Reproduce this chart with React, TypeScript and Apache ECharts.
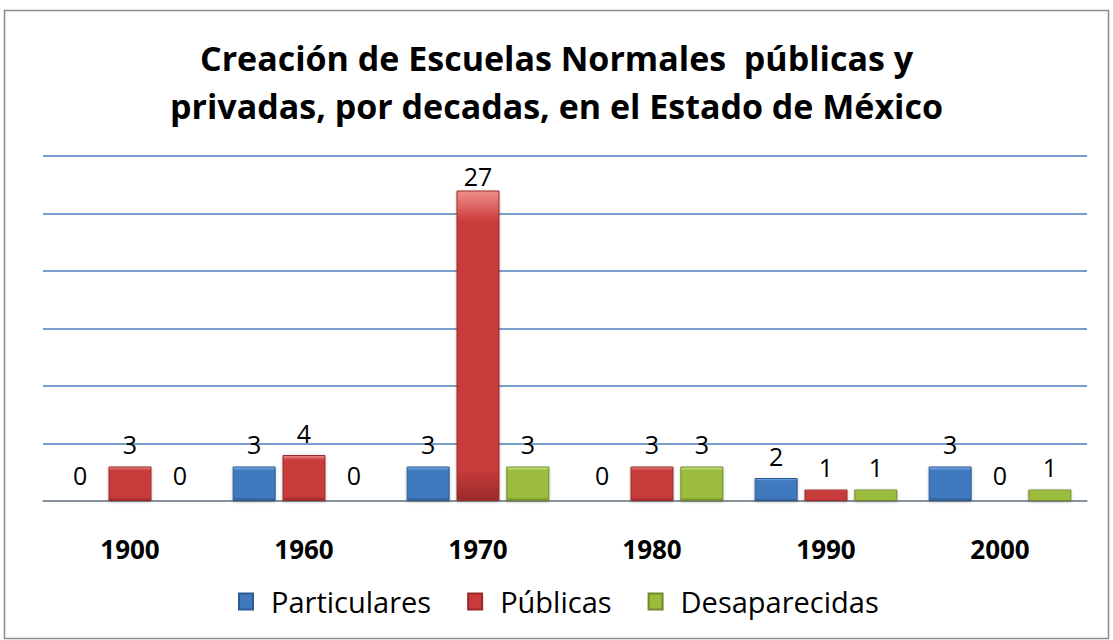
import React, { useEffect, useRef } from "react";
import * as echarts from "echarts";

const categories = ["1900", "1960", "1970", "1980", "1990", "2000"];
const particulares = [0, 3, 3, 0, 2, 3];
const publicas = [3, 4, 27, 3, 1, 0];
const desaparecidas = [0, 0, 3, 3, 1, 1];
const seriesNames = ["Particulares", "Públicas", "Desaparecidas"];
const yTicks = { min: 0, max: 30, interval: 5 };

const FONT = "'Open Sans', 'Noto Sans', sans-serif";

function grad(top: string, mid: string, bottom: string) {
  return new echarts.graphic.LinearGradient(0, 0, 0, 1, [
    { offset: 0, color: top },
    { offset: 0.1, color: mid },
    { offset: 0.9, color: mid },
    { offset: 1, color: bottom },
  ]);
}

const palettes = [
  { fill: grad("#86b8ee", "#4079be", "#2c5a92"), border: "#2c5a92", legend: "#4079be" },
  { fill: grad("#f08e8a", "#c83b3a", "#9a2a2a"), border: "#9a2a2a", legend: "#c83b3a" },
  { fill: grad("#d3ea90", "#9cbc3e", "#6f8a2a"), border: "#6f8a2a", legend: "#9cbc3e" },
];

// label placement like the original: zero labels float a bit higher,
// labels near the top of the plot stay inside it
function labelDistance(v: number) {
  if (v === 0) return 13;
  if (v >= yTicks.max - 4) return 2;
  return 10;
}

function toData(arr: number[]) {
  return arr.map((v) => ({ value: v, label: { distance: labelDistance(v) } }));
}

export default function App() {
  const ref = useRef<HTMLDivElement>(null);
  useEffect(() => {
    const chart = echarts.init(ref.current!, undefined, { renderer: "svg" });
    const lists = [particulares, publicas, desaparecidas];
    chart.setOption({
      animation: false,
      backgroundColor: "#ffffff",
      title: {
        text: "Creación de Escuelas Normales  públicas y\nprivadas, por decadas, en el Estado de México",
        left: "center",
        top: 34,
        padding: [0, 0, 0, 25],
        textStyle: {
          fontFamily: FONT,
          fontWeight: "bold",
          fontSize: 34,
          lineHeight: 48,
          color: "#000",
        },
      },
      graphic: [
        {
          type: "rect",
          shape: { x: 4.5, y: 10.5, width: 1104, height: 628 },
          style: { fill: "none", stroke: "#8c8c8c", lineWidth: 1.5 },
          silent: true,
        },
      ],
      legend: {
        bottom: 24,
        left: 238,
        padding: 0,
        itemWidth: 14,
        itemHeight: 16,
        itemGap: 36,
        textStyle: {
          fontFamily: FONT,
          fontSize: 29,
          color: "#000",
          padding: [0, 0, 0, 13],
        },
        data: seriesNames.map((n, i) => ({
          name: n,
          icon: "rect",
          itemStyle: { color: palettes[i].legend },
        })),
      },
      grid: { left: 43, right: 26, top: 156, bottom: 139 },
      xAxis: {
        type: "category",
        data: categories,
        axisLine: { lineStyle: { color: "#8c8c8c", width: 1.5 } },
        axisTick: { show: false },
        axisLabel: {
          fontFamily: FONT,
          fontWeight: "bold",
          fontSize: 26,
          color: "#000",
          margin: 35,
        },
      },
      yAxis: {
        type: "value",
        min: yTicks.min,
        max: yTicks.max,
        interval: yTicks.interval,
        axisLabel: { show: false },
        axisLine: { show: false },
        axisTick: { show: false },
        splitLine: { lineStyle: { color: "#4a7ebb", width: 1.5 } },
      },
      series: lists.map((arr, i) => ({
        name: seriesNames[i],
        type: "bar",
        data: toData(arr),
        barGap: "16%",
        barCategoryGap: "18%",
        itemStyle: {
          color: palettes[i].fill,
          borderColor: palettes[i].border,
          borderWidth: 1,
          shadowBlur: 3,
          shadowColor: "rgba(0,0,0,0.25)",
          shadowOffsetY: 1,
        },
        label: {
          show: true,
          position: "top",
          fontFamily: FONT,
          fontSize: 25,
          color: "#000",
        },
      })),
    });
    return () => chart.dispose();
  }, []);
  return (
    <div
      ref={ref}
      style={{ position: "fixed", left: 0, top: 0, width: 1113, height: 640 }}
    />
  );
}
